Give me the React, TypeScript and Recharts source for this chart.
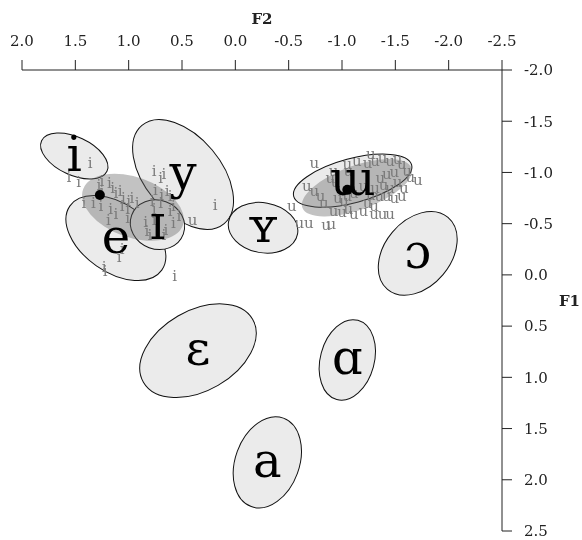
import { Scatter, ScatterChart, XAxis, YAxis } from "recharts";

// axes
const F2_TICKS = [2, 1.5, 1, 0.5, 0, -0.5, -1, -1.5, -2, -2.5];
const F1_TICKS = [-2, -1.5, -1, -0.5, 0, 0.5, 1, 1.5, 2, 2.5];

// reference vowels: mean (z-scored F2, F1), ellipse semi-axes and tilt (deg)
const VOWELS = ["i", "y", "e", "ɪ", "ʏ", "ɯ", "ɔ", "ɛ", "ɑ", "a"];
const VOWEL_F2 = [1.51, 0.49, 1.12, 0.73, -0.26, -1.1, -1.71, 0.35, -1.05, -0.3];
const VOWEL_F1 = [-1.16, -0.98, -0.36, -0.49, -0.46, -0.92, -0.21, 0.74, 0.83, 1.83];
const VOWEL_MAJOR = [0.345, 0.612, 0.536, 0.263, 0.335, 0.584, 0.45, 0.603, 0.392, 0.45];
const VOWEL_MINOR = [0.182, 0.364, 0.325, 0.234, 0.239, 0.211, 0.316, 0.383, 0.258, 0.306];
const VOWEL_TILT = [25, 50, 35, 20, 10, -15, -50, -30, -75, -70];

// speaker clusters (grey) and their targets (black dots)
const CLUSTERS = ["i", "u"];
const CLUSTER_F2 = [0.96, -1.14];
const CLUSTER_F1 = [-0.66, -0.85];
const CLUSTER_MAJOR = [0.507, 0.555];
const CLUSTER_MINOR = [0.287, 0.211];
const CLUSTER_TILT = [20, -20];
const TARGET_F2 = [1.27, -1.05];
const TARGET_F1 = [-0.78, -0.83];

// individual tokens [F2, F1]
const I_TOKENS: [number, number][] = [
  [1.36, -1.09], [1.56, -0.96], [1.47, -0.91], [1.25, -0.92], [1.18, -0.9],
  [1.28, -0.88], [1.15, -0.85], [1.12, -0.8], [1.08, -0.82], [1.05, -0.75],
  [1.0, -0.72], [0.97, -0.75], [0.92, -0.7], [1.26, -0.67], [1.17, -0.64],
  [1.12, -0.59], [1.19, -0.54], [1.06, -0.67], [1.01, -0.64], [0.67, -0.98],
  [0.75, -0.83], [0.69, -0.78], [0.64, -0.82], [0.61, -0.77], [0.58, -0.67],
  [0.61, -0.62], [0.53, -0.57], [0.7, -0.7], [0.76, -0.64], [0.84, -0.52],
  [0.83, -0.43], [0.65, -0.44], [0.58, -0.51], [1.06, -0.25], [1.09, -0.17],
  [1.23, -0.08], [1.22, -0.04], [0.57, 0.01], [0.19, -0.68], [1.42, -0.7],
  [1.33, -0.7], [0.8, -0.39], [0.67, -0.39], [0.76, -1.01], [0.7, -0.95],
  [0.76, -0.54], [0.78, -0.72], [1.25, -0.82], [1.01, -0.56],
];

const U_TOKENS: [number, number][] = [
  [-0.53, -0.67], [-0.6, -0.51], [-0.69, -0.51], [-0.67, -0.87], [-0.74, -0.82],
  [-0.8, -0.77], [-0.83, -0.7], [-0.89, -0.95], [-0.92, -1.01], [-0.94, -0.91],
  [-1.05, -1.08], [-1.06, -1.01], [-0.96, -0.75], [-1.02, -0.72], [-0.92, -0.62],
  [-1.0, -0.61], [-1.06, -0.64], [-1.11, -0.59], [-0.85, -0.49], [-0.9, -0.5],
  [-1.27, -1.18], [-1.31, -1.11], [-1.38, -1.14], [-1.45, -1.11], [-1.52, -1.13],
  [-1.56, -1.08], [-1.61, -1.01], [-1.71, -0.93], [-1.64, -0.96], [-1.49, -1.0],
  [-1.42, -0.98], [-1.36, -0.95], [-1.52, -0.91], [-1.58, -0.85], [-1.45, -0.85],
  [-1.39, -0.88], [-1.31, -0.85], [-1.27, -0.78], [-1.35, -0.77], [-1.42, -0.77],
  [-1.49, -0.75], [-1.56, -0.77], [-1.24, -0.7], [-1.3, -0.67], [-1.2, -0.62],
  [-1.3, -0.59], [-1.38, -0.59], [-1.45, -0.59], [-1.14, -1.11], [-1.24, -1.09],
  [-0.74, -1.09], [-1.2, -0.87], [-1.11, -0.8], [-1.05, -0.77], [0.4, -0.54],
];

// the chart fills the whole 582x540 window
const W = 582;
const H = 540;
const MARGIN = { top: 8, right: 0, bottom: 9, left: 22 };
const X_AXIS_H = 62;
const Y_AXIS_W = 80;
const PLOT_W = W - MARGIN.left - MARGIN.right - Y_AXIS_W;
const PLOT_H = H - MARGIN.top - MARGIN.bottom - X_AXIS_H;
const PX_PER_UNIT = (PLOT_W / 4.5 + PLOT_H / 4.5) / 2;

const SERIF = "'DejaVu Serif', 'Liberation Serif', serif";
const INK = "#222";

const vowelData = VOWELS.map((v, i) => ({
  label: v,
  f2: VOWEL_F2[i],
  f1: VOWEL_F1[i],
  major: VOWEL_MAJOR[i],
  minor: VOWEL_MINOR[i],
  tilt: VOWEL_TILT[i],
}));

const clusterData = CLUSTERS.map((v, i) => ({
  label: v,
  f2: CLUSTER_F2[i],
  f1: CLUSTER_F1[i],
  major: CLUSTER_MAJOR[i],
  minor: CLUSTER_MINOR[i],
  tilt: CLUSTER_TILT[i],
}));

const targetData = CLUSTERS.map((v, i) => ({ label: v, f2: TARGET_F2[i], f1: TARGET_F1[i] }));

const iTokenData = I_TOKENS.map(([f2, f1]) => ({ f2, f1, token: "i" }));
const uTokenData = U_TOKENS.map(([f2, f1]) => ({ f2, f1, token: "u" }));

const VowelEllipse = (props: any) => {
  const { cx, cy, payload } = props;
  return (
    <ellipse
      cx={cx}
      cy={cy}
      rx={payload.major * PX_PER_UNIT}
      ry={payload.minor * PX_PER_UNIT}
      transform={`rotate(${payload.tilt} ${cx} ${cy})`}
      fill="#ebebeb"
      stroke="#111"
      strokeWidth={1}
    />
  );
};

const ClusterEllipse = (props: any) => {
  const { cx, cy, payload } = props;
  return (
    <ellipse
      cx={cx}
      cy={cy}
      rx={payload.major * PX_PER_UNIT}
      ry={payload.minor * PX_PER_UNIT}
      transform={`rotate(${payload.tilt} ${cx} ${cy})`}
      fill="#666"
      fillOpacity={0.4}
      stroke="none"
    />
  );
};

const TokenText = (props: any) => (
  <text
    x={props.cx}
    y={props.cy + 5}
    textAnchor="middle"
    fontFamily={SERIF}
    fontSize={15}
    fill="#7a7a7a"
  >
    {props.payload.token}
  </text>
);

const TargetDot = (props: any) => <circle cx={props.cx} cy={props.cy} r={5} fill="#000" />;

const VowelLabel = (props: any) => (
  <text
    x={props.cx}
    y={props.cy + 14.5}
    textAnchor="middle"
    fontFamily={SERIF}
    fontSize={48}
    fill="#000"
  >
    {props.payload.label}
  </text>
);

const tickStyle = { fontFamily: SERIF, fontSize: 15, fill: INK };
const axisLabelStyle = { fontFamily: SERIF, fontSize: 15, fontWeight: "bold", fill: INK };

export default function App() {
  return (
    // fixed at the window origin so the page never scrolls or clips
    <div style={{ position: "fixed", left: 0, top: 0 }}>
      <ScatterChart width={W} height={H} margin={MARGIN}>
        <XAxis
          type="number"
          dataKey="f2"
          orientation="top"
          domain={[-2.5, 2]}
          reversed
          allowDataOverflow
          ticks={F2_TICKS}
          interval={0}
          tickFormatter={(v: number) => v.toFixed(1)}
          height={X_AXIS_H}
          tickSize={10}
          tickMargin={14}
          tick={tickStyle}
          stroke={INK}
          label={{ value: "F2", position: "insideTop", offset: 5, style: axisLabelStyle }}
        />
        <YAxis
          type="number"
          dataKey="f1"
          orientation="right"
          domain={[-2, 2.5]}
          reversed
          allowDataOverflow
          ticks={F1_TICKS}
          interval={0}
          tickFormatter={(v: number) => v.toFixed(1)}
          width={Y_AXIS_W}
          tickSize={10}
          tickMargin={12}
          tick={tickStyle}
          stroke={INK}
          label={{ value: "F1", position: "insideRight", offset: 2, style: axisLabelStyle }}
        />
        <Scatter data={vowelData} shape={VowelEllipse} isAnimationActive={false} />
        <Scatter data={clusterData} shape={ClusterEllipse} isAnimationActive={false} />
        <Scatter data={iTokenData} shape={TokenText} isAnimationActive={false} />
        <Scatter data={uTokenData} shape={TokenText} isAnimationActive={false} />
        <Scatter data={targetData} shape={TargetDot} isAnimationActive={false} />
        <Scatter data={vowelData} shape={VowelLabel} isAnimationActive={false} />
      </ScatterChart>
    </div>
  );
}
